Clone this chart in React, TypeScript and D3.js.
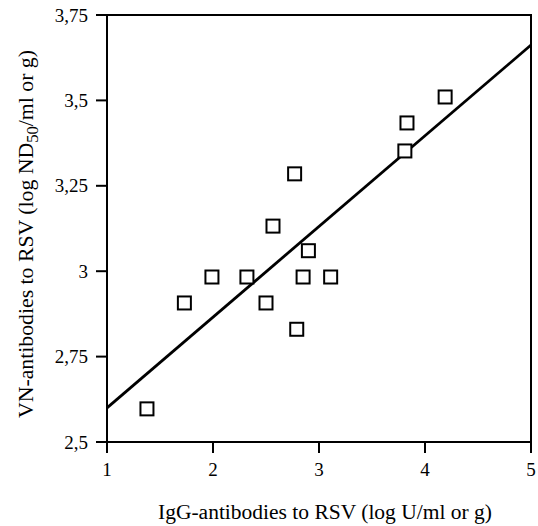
import React from "react";
import * as d3 from "d3";

const igg = [1.377, 1.73, 1.99, 2.32, 2.5, 2.566, 2.77, 2.79, 2.85, 2.9, 3.11, 3.81, 3.83, 4.19];
const vn = [2.597, 2.907, 2.983, 2.983, 2.907, 3.132, 3.285, 2.83, 2.983, 3.06, 2.983, 3.352, 3.434, 3.51];
const lineX = [1, 5];
const lineY = [2.6, 3.662];
const xTicks = [1, 2, 3, 4, 5];
const yTicks = [2.5, 2.75, 3, 3.25, 3.5, 3.75];
const fmt = (v: number) => String(v).replace(".", ",");

export default function App() {
  const W = 538, H = 526;
  const L = 107, R = 531, T = 15, B = 442;
  const x = d3.scaleLinear().domain([1, 5]).range([L, R]);
  const y = d3.scaleLinear().domain([2.5, 3.75]).range([B, T]);
  const line = d3.line<number>().x((_, i) => x(lineX[i])).y((d) => y(d));
  const s = 13;
  const font = "'Liberation Serif', 'Times New Roman', serif";
  return (
    <svg width={W} height={H} style={{ position: "absolute", left: 0, top: 0, background: "#fff" }} fontFamily={font}>
      <rect x={L} y={T} width={R - L} height={B - T} fill="none" stroke="#000" strokeWidth={2} />
      {yTicks.map((t) => (
        <g key={"y" + t}>
          <line x1={L - 11} x2={L} y1={y(t)} y2={y(t)} stroke="#000" strokeWidth={2} />
          <text x={L - 19} y={y(t)} dy="0.35em" textAnchor="end" fontSize={19}>{fmt(t)}</text>
        </g>
      ))}
      {xTicks.map((t) => (
        <g key={"x" + t}>
          <line x1={x(t)} x2={x(t)} y1={B} y2={B + 11} stroke="#000" strokeWidth={2} />
          <text x={x(t)} y={B + 34} textAnchor="middle" fontSize={19}>{t}</text>
        </g>
      ))}
      <path d={line(lineY) || ""} fill="none" stroke="#000" strokeWidth={2.8} />
      {igg.map((v, i) => (
        <rect key={i} x={x(v) - s / 2} y={y(vn[i]) - s / 2} width={s} height={s} fill="#fff" stroke="#000" strokeWidth={2} />
      ))}
      <text x={158} y={519} fontSize={20} textLength={334} lengthAdjust="spacingAndGlyphs">IgG-antibodies to RSV (log U/ml or g)</text>
      <text transform="translate(33,418) rotate(-90)" fontSize={21} textLength={368} lengthAdjust="spacingAndGlyphs">
        VN-antibodies to RSV (log ND<tspan dy={5} fontSize={16}>50</tspan><tspan dy={-5}>/ml or g)</tspan>
      </text>
    </svg>
  );
}
